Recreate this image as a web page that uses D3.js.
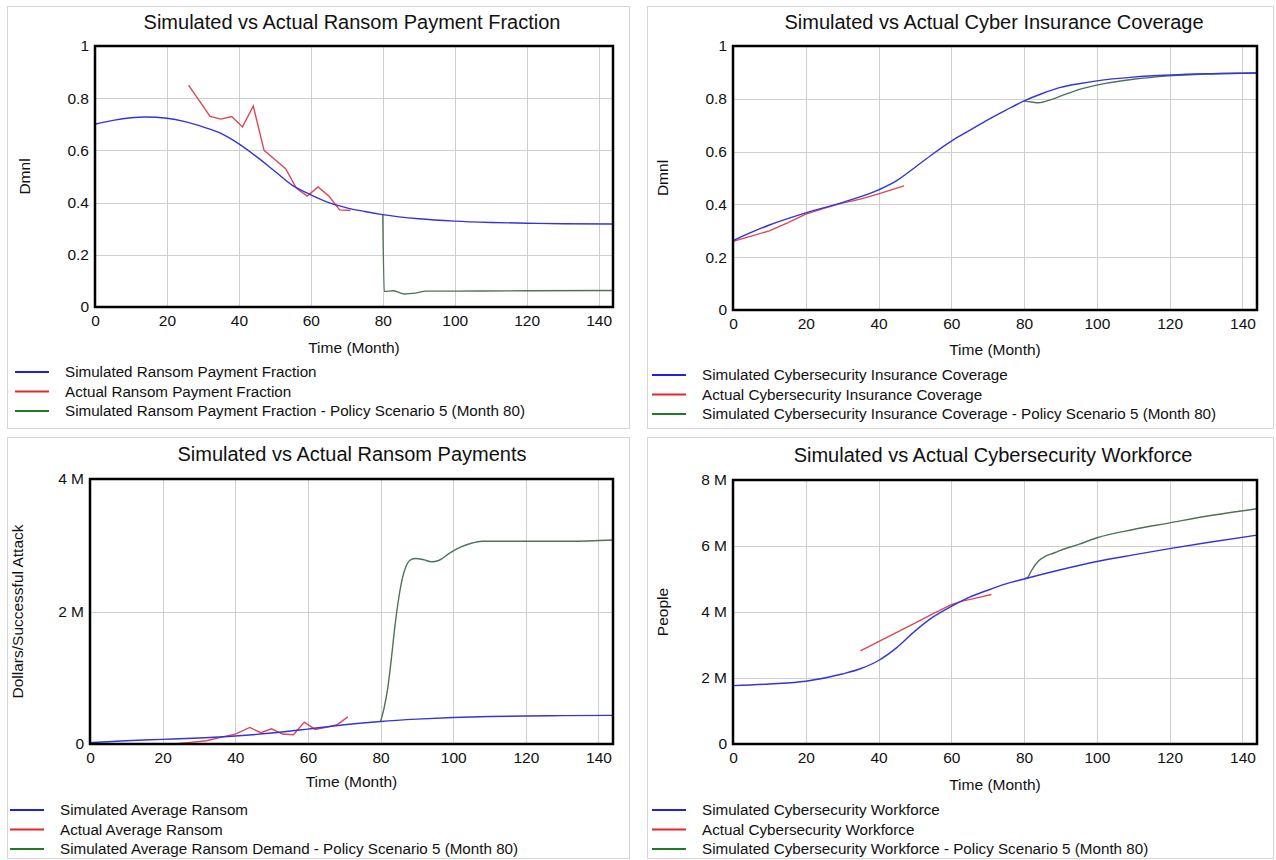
<!DOCTYPE html>
<html>
<head>
<meta charset="utf-8">
<script src="https://cdn.jsdelivr.net/npm/d3@7"></script>
<style>
  body { margin: 0; background: #fff; }
  text { font-family: "Liberation Sans", Arial, sans-serif; fill: #111; }
</style>
</head>
<body>
<svg id="chart" width="1276" height="860"></svg>
<script>
// ---- data (months, values) ----
const fracSimT = [0, 5, 10, 14, 20, 25, 30, 35, 40, 45, 50, 55, 60, 65, 70, 75, 80, 90, 100, 110, 120, 130, 144]
const fracSimV = [0.70, 0.715, 0.725, 0.728, 0.723, 0.71, 0.69, 0.665, 0.625, 0.575, 0.52, 0.465, 0.43, 0.40, 0.38, 0.366, 0.354, 0.338, 0.329, 0.324, 0.321, 0.319, 0.318]
const fracActT = [26, 32, 35, 38, 41, 44, 47, 50, 53, 56, 59, 62, 65, 68, 71]
const fracActV = [0.85, 0.73, 0.72, 0.73, 0.69, 0.77, 0.60, 0.565, 0.53, 0.455, 0.425, 0.46, 0.425, 0.372, 0.37]
const fracPolT = [80, 80.4, 83, 86, 89, 92, 100, 120, 144]
const fracPolV = [0.355, 0.06, 0.062, 0.05, 0.053, 0.061, 0.061, 0.062, 0.063]

const coverSimT = [0, 10, 20, 30, 40, 45, 50, 55, 60, 65, 70, 75, 80, 85, 90, 95, 100, 110, 120, 130, 144]
const coverSimV = [0.263, 0.322, 0.368, 0.407, 0.455, 0.49, 0.54, 0.592, 0.64, 0.68, 0.72, 0.757, 0.792, 0.82, 0.843, 0.857, 0.868, 0.882, 0.89, 0.895, 0.898]
const coverActT = [0, 5, 10, 15, 20, 25, 30, 35, 40, 47]
const coverActV = [0.26, 0.28, 0.30, 0.33, 0.363, 0.385, 0.405, 0.42, 0.44, 0.47]
const coverPolT = [80, 82, 84, 87, 90, 95, 100, 110, 120, 130, 144]
const coverPolV = [0.792, 0.788, 0.785, 0.795, 0.81, 0.835, 0.852, 0.874, 0.887, 0.894, 0.898]

// millions of dollars per successful attack
const ransomSimT = [0, 10, 20, 30, 40, 50, 60, 70, 80, 90, 100, 110, 120, 130, 144]
const ransomSimV = [0.02, 0.05, 0.07, 0.09, 0.12, 0.165, 0.225, 0.29, 0.34, 0.375, 0.40, 0.415, 0.422, 0.428, 0.432]
const ransomActT = [23, 27, 32, 36, 40, 44, 47, 50, 53, 56, 59, 62, 65, 68, 71]
const ransomActV = [0.0, 0.02, 0.05, 0.1, 0.15, 0.25, 0.17, 0.23, 0.15, 0.14, 0.33, 0.22, 0.25, 0.29, 0.41]
const ransomPolT = [80, 81, 82, 83, 84, 85, 86, 87, 88, 89.5, 92, 94, 96, 99, 102, 105, 108, 120, 132, 144]
const ransomPolV = [0.34, 0.55, 0.85, 1.3, 1.8, 2.2, 2.5, 2.68, 2.77, 2.8, 2.78, 2.75, 2.77, 2.88, 2.97, 3.03, 3.06, 3.06, 3.06, 3.08]

// millions of people
const workSimT = [0, 10, 20, 30, 35, 40, 45, 50, 55, 60, 65, 70, 75, 80, 90, 100, 110, 120, 130, 144]
const workSimV = [1.77, 1.82, 1.9, 2.12, 2.28, 2.53, 2.92, 3.42, 3.85, 4.17, 4.45, 4.66, 4.85, 5.0, 5.28, 5.53, 5.73, 5.92, 6.1, 6.33]
const workActT = [35, 40, 45, 50, 55, 60, 63, 67, 71]
const workActV = [2.82, 3.1, 3.38, 3.66, 3.95, 4.22, 4.33, 4.43, 4.53]
const workPolT = [80, 81, 82, 84, 86, 88, 90, 95, 100, 110, 120, 130, 144]
const workPolV = [5.0, 5.05, 5.25, 5.55, 5.7, 5.78, 5.87, 6.05, 6.25, 6.5, 6.7, 6.9, 7.13]

const xTicks = [0, 20, 40, 60, 80, 100, 120, 140]

const plotColors = ['#3434dc', '#dc4656', '#4f7258']
const legendColors = ['#1f1fe8', '#e8262a', '#207a2a']

const zip = (ts, vs, k = 1) => ts.map((t, i) => ({ t: t, v: vs[i] * k }))

const panels = [
    {
        box: [7, 6, 622, 422], frame: [95, 46, 518, 261],
        title: 'Simulated vs Actual Ransom Payment Fraction', titleX: 352, titleY: 29,
        yLabel: 'Dmnl', yLabelX: 30, xLabelY: 353,
        yDomain: [0, 1], yTicks: [0, 0.2, 0.4, 0.6, 0.8, 1], yFmt: d => d3.format('~g')(d),
        series: [zip(fracSimT, fracSimV), zip(fracActT, fracActV), zip(fracPolT, fracPolV)],
        legend: ['Simulated Ransom Payment Fraction', 'Actual Ransom Payment Fraction',
            'Simulated Ransom Payment Fraction - Policy Scenario 5 (Month 80)'],
        legX: 15, legY: 372
    },
    {
        box: [647, 6, 626, 422], frame: [733, 46, 524, 264],
        title: 'Simulated vs Actual Cyber Insurance Coverage', titleX: 994, titleY: 29,
        yLabel: 'Dmnl', yLabelX: 668, xLabelY: 355,
        yDomain: [0, 1], yTicks: [0, 0.2, 0.4, 0.6, 0.8, 1], yFmt: d => d3.format('~g')(d),
        series: [zip(coverSimT, coverSimV), zip(coverActT, coverActV), zip(coverPolT, coverPolV)],
        legend: ['Simulated Cybersecurity Insurance Coverage', 'Actual Cybersecurity Insurance Coverage',
            'Simulated Cybersecurity Insurance Coverage - Policy Scenario 5 (Month 80)'],
        legX: 652, legY: 375
    },
    {
        box: [7, 437, 622, 421], frame: [90, 479, 523, 265],
        title: 'Simulated vs Actual Ransom Payments', titleX: 352, titleY: 461,
        yLabel: 'Dollars/Successful Attack', yLabelX: 23, xLabelY: 787,
        yDomain: [0, 4e6], yTicks: [0, 2e6, 4e6], yFmt: d => d === 0 ? '0' : (d / 1e6) + ' M',
        series: [zip(ransomSimT, ransomSimV, 1e6), zip(ransomActT, ransomActV, 1e6), zip(ransomPolT, ransomPolV, 1e6)],
        legend: ['Simulated Average Ransom', 'Actual Average Ransom',
            'Simulated Average Ransom Demand - Policy Scenario 5 (Month 80)'],
        legX: 10, legY: 810
    },
    {
        box: [647, 437, 626, 421], frame: [733, 480, 524, 264],
        title: 'Simulated vs Actual Cybersecurity Workforce', titleX: 993, titleY: 462,
        yLabel: 'People', yLabelX: 668, xLabelY: 790,
        yDomain: [0, 8e6], yTicks: [0, 2e6, 4e6, 6e6, 8e6], yFmt: d => d === 0 ? '0' : (d / 1e6) + ' M',
        series: [zip(workSimT, workSimV, 1e6), zip(workActT, workActV, 1e6), zip(workPolT, workPolV, 1e6)],
        legend: ['Simulated Cybersecurity Workforce', 'Actual Cybersecurity Workforce',
            'Simulated Cybersecurity Workforce - Policy Scenario 5 (Month 80)'],
        legX: 652, legY: 810
    }
]

const svg = d3.select('#chart')

panels.forEach(p => {
    const [fx, fy, fw, fh] = p.frame
    const g = svg.append('g')

    g.append('rect')
        .attr('x', p.box[0] + 0.5).attr('y', p.box[1] + 0.5)
        .attr('width', p.box[2]).attr('height', p.box[3])
        .attr('fill', 'none').attr('stroke', '#d6d6d6')

    const x = d3.scaleLinear().domain([0, 144]).range([fx, fx + fw])
    const y = d3.scaleLinear().domain(p.yDomain).range([fy + fh, fy])

    // grid
    g.append('g').selectAll('line')
        .data(xTicks.filter(t => t > 0))
        .enter().append('line')
        .attr('x1', d => Math.round(x(d)) + 0.5).attr('x2', d => Math.round(x(d)) + 0.5)
        .attr('y1', fy).attr('y2', fy + fh)
        .attr('stroke', '#cfcfcf')
    g.append('g').selectAll('line')
        .data(p.yTicks.slice(1, -1))
        .enter().append('line')
        .attr('x1', fx).attr('x2', fx + fw)
        .attr('y1', d => Math.round(y(d)) + 0.5).attr('y2', d => Math.round(y(d)) + 0.5)
        .attr('stroke', '#cfcfcf')

    // axes
    const xAxis = g.append('g')
        .attr('transform', `translate(0,${fy + fh})`)
        .call(d3.axisBottom(x).tickValues(xTicks).tickSize(0).tickPadding(8).tickFormat(d3.format('d')))
    const yAxis = g.append('g')
        .attr('transform', `translate(${fx},0)`)
        .call(d3.axisLeft(y).tickValues(p.yTicks).tickSize(0).tickPadding(6).tickFormat(p.yFmt))
    ;[xAxis, yAxis].forEach(a => {
        a.select('.domain').remove()
        a.selectAll('text').style('font-size', '15.5px').attr('fill', '#111')
            .style('font-family', '"Liberation Sans", Arial, sans-serif')
    })

    // lines
    const line = d3.line().x(d => x(d.t)).y(d => y(d.v))
    const curves = [d3.curveMonotoneX, d3.curveLinear, d3.curveMonotoneX]
    const order = [2, 1, 0]
    order.forEach(i => {
        g.append('path')
            .datum(p.series[i])
            .attr('d', line.curve(curves[i]))
            .attr('fill', 'none')
            .attr('stroke', plotColors[i])
            .attr('stroke-width', 1.4)
    })

    // frame
    g.append('rect')
        .attr('x', fx).attr('y', fy).attr('width', fw).attr('height', fh)
        .attr('fill', 'none').attr('stroke', '#000').attr('stroke-width', 2.5)

    // titles
    g.append('text')
        .attr('x', p.titleX).attr('y', p.titleY)
        .attr('text-anchor', 'middle')
        .style('font-size', '20px')
        .text(p.title)
    g.append('text')
        .attr('x', fx + fw / 2).attr('y', p.xLabelY)
        .attr('text-anchor', 'middle')
        .style('font-size', '15.5px')
        .text('Time (Month)')
    g.append('text')
        .attr('transform', `translate(${p.yLabelX},${fy + fh / 2}) rotate(-90)`)
        .attr('text-anchor', 'middle')
        .style('font-size', '15.5px')
        .text(p.yLabel)

    // legend
    const leg = g.append('g').selectAll('g')
        .data(p.legend)
        .enter().append('g')
        .attr('transform', (d, i) => `translate(${p.legX},${p.legY + i * 19.5})`)
    leg.append('line')
        .attr('x1', 0).attr('x2', 34)
        .attr('stroke', (d, i) => legendColors[i])
        .attr('stroke-width', 2.2)
    leg.append('text')
        .attr('x', 50).attr('y', 5)
        .style('font-size', '15.2px')
        .text(d => d)
})
</script>
</body>
</html>
